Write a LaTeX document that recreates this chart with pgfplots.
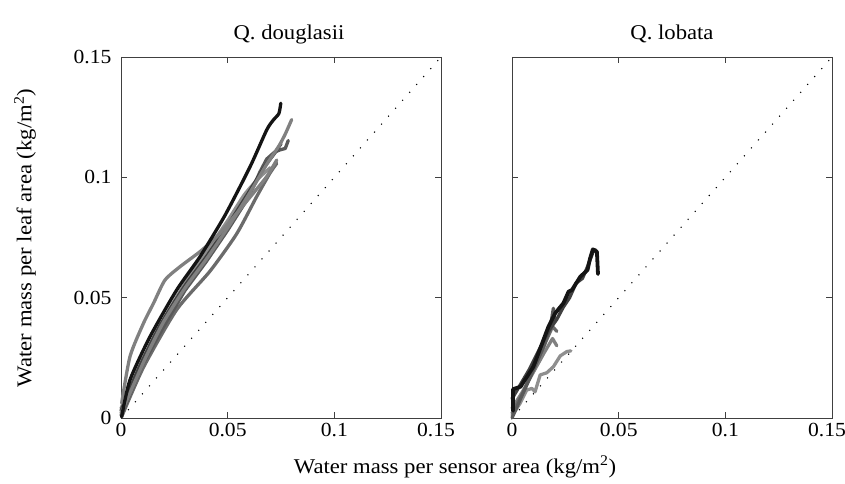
\documentclass[border=0pt]{standalone}
\usepackage{pgfplots}
\pgfplotsset{compat=1.18}
\usepackage{fontspec}
\setmainfont[FakeStretch=1.08]{Liberation Serif}
\definecolor{c1}{gray}{0.08}
\definecolor{c2}{gray}{0.25}
\definecolor{c3}{gray}{0.35}
\definecolor{c4}{gray}{0.42}
\definecolor{c5}{gray}{0.5}
\definecolor{c6}{gray}{0.56}
\pgfplotsset{
  panel/.style={
    scale only axis, width=320pt, height=361pt,
    xmin=0, xmax=0.15, ymin=0, ymax=0.15,
    xtick={0,0.05,0.1,0.15}, ytick={0,0.05,0.1,0.15},
    tick align=inside, major tick length=6pt,
    axis line style={black!75, line width=0.9pt},
    tick style={black!75, line width=0.9pt},
    /pgf/number format/assume math mode=true,
    /pgf/number format/fixed, /pgf/number format/precision=2,
    tick label style={font=\fontsize{20}{24}\selectfont},
    xticklabels={0,0.05,0.1,{\kern-5pt0.15\kern5pt}},
    xticklabel style={yshift=-2pt},
    yticklabel style={xshift=-6pt},
    clip=false,
  },
  crv/.style={line width=3.3pt, line join=round, line cap=round},
}
\begin{document}
\begin{tikzpicture}
\path[use as bounding box] (0,0) rectangle (845pt,483pt);
% left panel
\begin{axis}[panel, at={(121pt,65pt)}, anchor=south west]
\addplot[black, line width=1.1pt, dash pattern=on 1.1pt off 9.5pt] coordinates {(0,0) (0.15,0.15)};
\addplot[crv, c6, smooth, tension=0.4] coordinates {(0,0.004) (0.01,0.024) (0.02,0.041) (0.03,0.056) (0.04,0.069) (0.05,0.082) (0.058,0.093) (0.065,0.1) (0.07,0.104)};
\addplot[crv, c4, smooth, tension=0.4] coordinates {(0.0003,0.0005) (0.0105,0.021) (0.0261,0.045) (0.0417,0.061) (0.0542,0.0765) (0.0636,0.092) (0.0698,0.1017) (0.073,0.1058)};
\addplot[crv, c3] coordinates {(0,0.001) (0.01,0.022) (0.02,0.038) (0.03,0.053) (0.04,0.065) (0.05,0.078) (0.06,0.092) (0.065,0.102) (0.0683,0.1076) (0.072,0.1105) (0.0745,0.1114) (0.077,0.112) (0.0784,0.1153)};
\addplot[crv, c2, smooth, tension=0.4] coordinates {(0,0.003) (0.008,0.02) (0.018,0.038) (0.03,0.055) (0.04,0.067) (0.05,0.08) (0.06,0.094) (0.067,0.104) (0.072,0.11) (0.075,0.114)};
\addplot[crv, c5, smooth, tension=0.4] coordinates {(0,0.002) (0.005,0.012) (0.012,0.026) (0.02,0.04) (0.03,0.054) (0.04,0.066) (0.05,0.079) (0.06,0.093) (0.068,0.105) (0.074,0.113) (0.077,0.118) (0.08,0.124)};
\addplot[crv, c5, smooth, tension=0.4] coordinates {(0.0003,0.0061) (0.0042,0.0255) (0.0105,0.0393) (0.0152,0.0476) (0.0206,0.0573) (0.0277,0.0629) (0.037,0.0691) (0.0449,0.0753) (0.0542,0.085) (0.062,0.0934) (0.0683,0.1003) (0.073,0.1072)};
\addplot[crv, c1, smooth, tension=0.4] coordinates {(0.0003,0.0005) (0.0042,0.0158) (0.0136,0.0338) (0.0261,0.0532) (0.037,0.067) (0.0488,0.0843) (0.0605,0.1044) (0.0683,0.1197) (0.0714,0.1238) (0.074,0.1265) (0.0749,0.1308)};
\end{axis}
% right panel
\begin{axis}[panel, at={(512pt,65pt)}, anchor=south west, yticklabels={}]
\addplot[black, line width=1.1pt, dash pattern=on 1.1pt off 9.5pt] coordinates {(0,0) (0.15,0.15)};
\addplot[crv, c6] coordinates {(0,0.001) (0.0038,0.0061) (0.0069,0.0116) (0.0093,0.0123) (0.0108,0.0109) (0.0132,0.0179) (0.0163,0.0188) (0.0194,0.0213) (0.0226,0.0258) (0.0257,0.0276) (0.0276,0.0279)};
\addplot[crv, c5] coordinates {(0,0.004) (0.005,0.011) (0.01,0.019) (0.015,0.027) (0.019,0.033) (0.021,0.03)};
\addplot[crv, c4] coordinates {(0,0.002) (0.006,0.012) (0.012,0.024) (0.016,0.032) (0.019,0.038) (0.021,0.036)};
\addplot[crv, c3] coordinates {(0,0) (0.005,0.01) (0.01,0.02) (0.015,0.03) (0.018,0.038) (0.0194,0.0456) (0.02,0.04)};
\addplot[crv, c2] coordinates {(0,0.008) (0.008,0.02) (0.017,0.036) (0.021,0.041) (0.024,0.046) (0.027,0.05) (0.03,0.056) (0.033,0.058) (0.035,0.062) (0.038,0.069) (0.039,0.07)};
\addplot[crv, c1, line width=3.8pt] coordinates {(0.0005,0.003) (0.0005,0.012) (0.004,0.013) (0.01,0.0213) (0.0171,0.038) (0.0202,0.0435) (0.0241,0.0477) (0.0265,0.0525) (0.0281,0.0532) (0.032,0.0587) (0.0354,0.0615) (0.0365,0.066) (0.0379,0.0701) (0.0398,0.0691) (0.0403,0.0598)};
\end{axis}
% titles and labels
\node[anchor=base, font=\fontsize{21}{25}\selectfont] at (289pt,443pt) {Q. douglasii};
\node[anchor=base, font=\fontsize{21}{25}\selectfont] at (672pt,443pt) {Q. lobata};
\node[rotate=90, font=\fontsize{21}{25}\selectfont] at (25pt,245pt) {Water mass per leaf area (kg/m\textsuperscript{2})};
\node[font=\fontsize{21}{25}\selectfont] at (455pt,16pt) {Water mass per sensor area (kg/m\textsuperscript{2})};
\end{tikzpicture}
\end{document}
